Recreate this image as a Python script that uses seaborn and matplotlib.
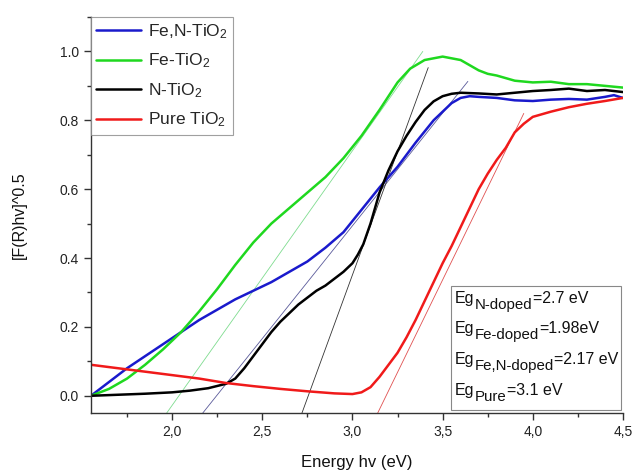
import numpy as np
import pandas as pd
import matplotlib
matplotlib.use("Agg")
import matplotlib.pyplot as plt
import matplotlib.ticker as mticker
from matplotlib.patches import Rectangle
import seaborn as sns

# Energy grid (eV) and Kubelka-Munk transformed spectra [F(R)hv]^0.5
fen_x = [1.55, 1.65, 1.75, 1.85, 1.95, 2.05, 2.15, 2.25, 2.35, 2.45, 2.55, 2.65,
         2.75, 2.85, 2.95, 3.05, 3.15, 3.25, 3.35, 3.45, 3.55, 3.6, 3.65, 3.7,
         3.8, 3.9, 4.0, 4.1, 4.2, 4.3, 4.4, 4.45, 4.5]
fen_y = [0.0, 0.04, 0.08, 0.115, 0.15, 0.185, 0.22, 0.25, 0.28, 0.305, 0.33, 0.36,
         0.39, 0.43, 0.475, 0.54, 0.605, 0.665, 0.735, 0.8, 0.85, 0.865, 0.87, 0.868,
         0.865, 0.858, 0.856, 0.86, 0.862, 0.86, 0.868, 0.873, 0.865]

fe_x = [1.55, 1.65, 1.75, 1.85, 1.95, 2.05, 2.15, 2.25, 2.35, 2.45, 2.55, 2.65,
        2.75, 2.85, 2.95, 3.05, 3.15, 3.25, 3.32, 3.4, 3.45, 3.5, 3.55, 3.6, 3.65,
        3.7, 3.75, 3.8, 3.9, 4.0, 4.1, 4.2, 4.3, 4.4, 4.5]
fe_y = [0.0, 0.02, 0.05, 0.09, 0.135, 0.185, 0.245, 0.31, 0.38, 0.445, 0.5, 0.545,
        0.59, 0.635, 0.69, 0.755, 0.83, 0.91, 0.95, 0.975, 0.98, 0.985, 0.98, 0.975, 0.96,
        0.945, 0.935, 0.93, 0.915, 0.91, 0.912, 0.905, 0.905, 0.9, 0.895]

n_x = [1.55, 1.7, 1.85, 2.0, 2.1, 2.2, 2.3, 2.35, 2.4, 2.45, 2.5, 2.55, 2.6, 2.65,
       2.7, 2.75, 2.8, 2.85, 2.9, 2.95, 3.0, 3.03, 3.06, 3.1, 3.15, 3.2, 3.25, 3.3,
       3.35, 3.4, 3.45, 3.5, 3.55, 3.6, 3.7, 3.8, 3.9, 4.0, 4.1, 4.2, 4.3, 4.4, 4.5]
n_y = [0.0, 0.003, 0.006, 0.01, 0.015, 0.022, 0.035, 0.05, 0.08, 0.115, 0.15, 0.185,
       0.215, 0.24, 0.265, 0.285, 0.305, 0.32, 0.34, 0.36, 0.385, 0.41, 0.44, 0.5,
       0.59, 0.655, 0.71, 0.755, 0.795, 0.83, 0.855, 0.87, 0.877, 0.88, 0.878, 0.875,
       0.88, 0.885, 0.888, 0.892, 0.885, 0.888, 0.882]

pure_x = [1.55, 1.7, 1.85, 2.0, 2.15, 2.3, 2.45, 2.6, 2.75, 2.9, 3.0, 3.05, 3.1,
          3.15, 3.2, 3.25, 3.3, 3.35, 3.4, 3.45, 3.5, 3.55, 3.6, 3.65, 3.7, 3.75,
          3.8, 3.85, 3.9, 3.95, 4.0, 4.1, 4.2, 4.3, 4.4, 4.5]
pure_y = [0.09, 0.08, 0.07, 0.06, 0.05, 0.037, 0.028, 0.02, 0.013, 0.007, 0.005,
          0.01, 0.025, 0.055, 0.09, 0.125, 0.17, 0.22, 0.275, 0.33, 0.385, 0.435,
          0.49, 0.545, 0.6, 0.645, 0.685, 0.72, 0.765, 0.79, 0.81, 0.825, 0.838,
          0.848, 0.856, 0.865]

# Linear extrapolations of the absorption edges (start and end points)
tangent_fen_x = [2.17, 3.64]
tangent_fen_y = [-0.05, 0.913]
tangent_fe_x = [1.97, 3.39]
tangent_fe_y = [-0.05, 1.0]
tangent_n_x = [2.72, 3.42]
tangent_n_y = [-0.05, 0.953]
tangent_pure_x = [3.14, 3.95]
tangent_pure_y = [-0.05, 0.82]

labels = [r"Fe,N-TiO$_2$", r"Fe-TiO$_2$", r"N-TiO$_2$", r"Pure TiO$_2$"]
colors = ["#1a1acc", "#1fd81f", "#000000", "#f01a1a"]
tangent_colors = ["#5a5a9a", "#7fdc8f", "#333333", "#e05050"]

x_ticks = [2.0, 2.5, 3.0, 3.5, 4.0, 4.5]
x_tick_labels = ["2,0", "2,5", "3,0", "3,5", "4,0", "4,5"]
y_ticks = [0.0, 0.2, 0.4, 0.6, 0.8, 1.0]

# Band-gap summary: subscript part and value part for each sample
gap_subs = ["N-doped", "Fe-doped", "Fe,N-doped", "Pure"]
gap_values = ["=2.7 eV", "=1.98eV", "=2.17 eV", "=3.1 eV"]

sns.set_theme(style="ticks")
plt.rcParams["font.family"] = ["Liberation Sans", "DejaVu Sans"]
plt.rcParams["mathtext.default"] = "regular"

fig = plt.figure(figsize=(6.34, 4.72), dpi=100)
ax = fig.add_axes([0.1435, 0.125, 0.8391, 0.839])

series = [(fen_x, fen_y), (fe_x, fe_y), (n_x, n_y), (pure_x, pure_y)]
tangents = [(tangent_fen_x, tangent_fen_y), (tangent_fe_x, tangent_fe_y),
            (tangent_n_x, tangent_n_y), (tangent_pure_x, tangent_pure_y)]

for (tx, ty), c in zip(tangents, tangent_colors):
    sns.lineplot(x=tx, y=ty, ax=ax, color=c, lw=0.6, legend=False)

for (sx, sy), lab, c in zip(series, labels, colors):
    df = pd.DataFrame({"E": sx, "F": sy})
    sns.lineplot(data=df, x="E", y="F", ax=ax, color=c, lw=1.8, label=lab)

ax.set_xlim(1.55, 4.5)
ax.set_ylim(-0.05, 1.1)
ax.set_xticks(x_ticks)
ax.set_xticklabels(x_tick_labels)
ax.set_yticks(y_ticks)
ax.yaxis.set_major_formatter(mticker.FormatStrFormatter("%.1f"))
ax.xaxis.set_minor_locator(mticker.MultipleLocator(0.25))
ax.yaxis.set_minor_locator(mticker.MultipleLocator(0.1))
ax.tick_params(which="major", direction="out", length=5, width=1,
               labelsize=10, colors="#333333", labelcolor="#222222")
ax.tick_params(which="minor", direction="out", length=3, width=1, colors="#333333")

for side in ("top", "right"):
    ax.spines[side].set_visible(False)
for side in ("left", "bottom"):
    ax.spines[side].set_color("#333333")
    ax.spines[side].set_linewidth(1.0)

ax.set_xlabel("Energy hv (eV)", fontsize=12, color="#111111", labelpad=12)
ax.set_ylabel("[F(R)hv]^0.5", fontsize=11.5, color="#111111", labelpad=24)

leg = ax.legend(loc="upper left", bbox_to_anchor=(0.0, 1.0), fontsize=12.5,
                frameon=True, fancybox=False, edgecolor="#888888",
                handlelength=2.6, handletextpad=0.4, labelspacing=0.62,
                borderpad=0.3, borderaxespad=0.0)
leg.get_frame().set_linewidth(0.8)

# Framed band-gap box in the lower right corner
ax.add_patch(Rectangle((0.6767, 0.0076), 0.3195, 0.3131, transform=ax.transAxes,
                       fc="white", ec="#888888", lw=0.8, zorder=5))
baselines = [0.278, 0.202, 0.124, 0.045]
for yb, sub, val in zip(baselines, gap_subs, gap_values):
    t_main = ax.text(0.684, yb, "Eg", transform=ax.transAxes, fontsize=11.5,
                     va="baseline", ha="left", color="#111111", zorder=6)
    t_sub = ax.annotate(sub, xy=(1, 0), xycoords=t_main, xytext=(0.3, -2.0),
                        textcoords="offset points", fontsize=10.8, va="baseline",
                        ha="left", color="#111111", zorder=6)
    ax.annotate(val, xy=(1, 0), xycoords=(t_sub, t_main), xytext=(0.3, 0),
                textcoords="offset points", fontsize=11.5, va="bottom",
                ha="left", color="#111111", zorder=6)

fig.savefig("out.png", dpi=100)
